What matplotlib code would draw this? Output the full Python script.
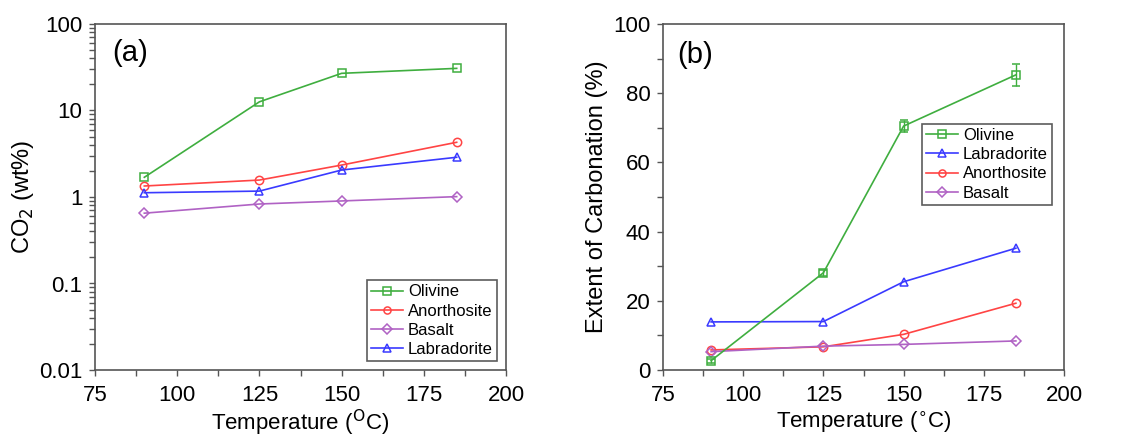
import numpy as np
import matplotlib.pyplot as plt
from matplotlib.ticker import MultipleLocator, LogLocator, NullFormatter

plt.rcParams['font.family'] = ['Liberation Sans', 'DejaVu Sans']

temps = [90, 125, 150, 185]

# (a) CO2 content (wt%)
co2_olivine     = [1.69, 12.6, 26.9, 30.7]
co2_anorthosite = [1.34, 1.57, 2.34, 4.29]
co2_basalt      = [0.65, 0.83, 0.90, 1.01]
co2_labradorite = [1.12, 1.17, 2.05, 2.88]

# (b) extent of carbonation (%)
ext_olivine     = [2.7, 28.1, 70.5, 85.3]
ext_olivine_err = [0.6, 0.8, 1.8, 3.2]
ext_labradorite = [13.9, 14.0, 25.5, 35.2]
ext_anorthosite = [5.8, 6.7, 10.3, 19.3]
ext_basalt      = [5.3, 6.9, 7.4, 8.4]

GREEN  = '#3fae3f'
RED    = '#ff4444'
PURPLE = '#b062c4'
BLUE   = '#3a3aff'
SPINE  = '#555555'

fig = plt.figure(figsize=(11.34, 4.4), dpi=100)
ax1 = fig.add_axes([95/1134, 70/440, 411/1134, 346/440])
ax2 = fig.add_axes([663/1134, 70/440, 401/1134, 346/440])


def style(ax):
    for s in ax.spines.values():
        s.set_color(SPINE)
        s.set_linewidth(1.2)
    ax.tick_params(which='both', direction='out', top=False, right=False,
                   color=SPINE, labelsize=16, width=1)
    ax.tick_params(which='major', length=4, pad=5)
    ax.tick_params(which='minor', length=4)
    ax.tick_params(axis='x', which='major', pad=7)
    ax.xaxis.set_major_locator(MultipleLocator(25))
    ax.xaxis.set_minor_locator(MultipleLocator(12.5))
    ax.set_xlim(75, 200)


mk = dict(markerfacecolor='none', markersize=6, markeredgewidth=1.1, lw=1.2)
mkd = dict(markerfacecolor='none', markersize=5.5, markeredgewidth=1.1, lw=1.2)
legkw = dict(fontsize=12, frameon=True, fancybox=False, edgecolor='#333333',
             borderpad=0.25, labelspacing=0.25, handlelength=1.9,
             handletextpad=0.3, markerscale=0.85)

# ---- panel (a)
ax1.plot(temps, co2_olivine, '-s', color=GREEN, label='Olivine', **mk)
ax1.plot(temps, co2_anorthosite, '-o', color=RED, label='Anorthosite', **mk)
ax1.plot(temps, co2_basalt, '-D', color=PURPLE, label='Basalt', **mkd)
ax1.plot(temps, co2_labradorite, '-^', color=BLUE, label='Labradorite', **mk)
ax1.set_yscale('log')
ax1.set_ylim(0.01, 100)
style(ax1)
ax1.yaxis.set_minor_locator(LogLocator(base=10, subs=np.arange(2, 10), numticks=10))
ax1.yaxis.set_minor_formatter(NullFormatter())
ax1.set_yticks([0.01, 0.1, 1, 10, 100])
ax1.set_yticklabels(['0.01', '0.1', '1', '10', '100'])
ax1.set_xlabel('Temperature ($^{\\mathrm{O}}$C)', fontsize=16, labelpad=1)
ax1.set_ylabel('CO$_2$ (wt%)', fontsize=17, labelpad=2)
ax1.text(0.085, 0.915, '(a)', transform=ax1.transAxes, fontsize=21, va='center', ha='center')
leg1 = ax1.legend(loc='lower right', bbox_to_anchor=(0.978, 0.026), borderaxespad=0, **legkw)
leg1.get_frame().set_linewidth(1.2)

# ---- panel (b)
h_ol = ax2.errorbar(temps, ext_olivine, yerr=ext_olivine_err, fmt='-s', color=GREEN,
                    capsize=3, elinewidth=1, **mk)
h_lab, = ax2.plot(temps, ext_labradorite, '-^', color=BLUE, **mk)
h_an, = ax2.plot(temps, ext_anorthosite, '-o', color=RED, **mk)
h_ba, = ax2.plot(temps, ext_basalt, '-D', color=PURPLE, **mkd)
ax2.set_ylim(0, 100)
style(ax2)
ax2.yaxis.set_major_locator(MultipleLocator(20))
ax2.yaxis.set_minor_locator(MultipleLocator(10))
ax2.set_xlabel('Temperature ($^{\\circ}$C)', fontsize=16, labelpad=2)
ax2.set_ylabel('Extent of Carbonation (%)', fontsize=17, labelpad=4)
ax2.text(0.08, 0.91, '(b)', transform=ax2.transAxes, fontsize=21, va='center', ha='center')
leg2 = ax2.legend([h_ol[0], h_lab, h_an, h_ba], ['Olivine', 'Labradorite', 'Anorthosite', 'Basalt'],
                  loc='upper right', bbox_to_anchor=(0.970, 0.711), borderaxespad=0, **legkw)
leg2.get_frame().set_linewidth(1.2)

fig.savefig('out.png', dpi=100)
